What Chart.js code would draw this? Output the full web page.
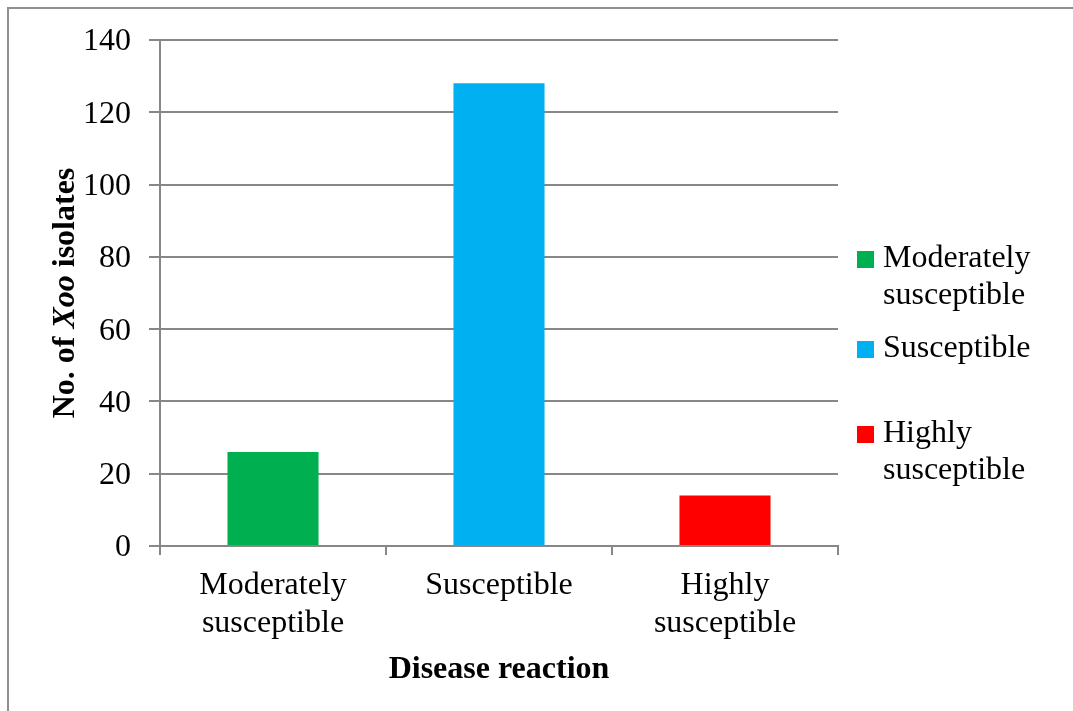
<!DOCTYPE html>
<html>
<head>
<meta charset="utf-8">
<script src="https://cdn.jsdelivr.net/npm/chart.js@4/dist/chart.umd.min.js"></script>
<style>
  html, body { margin: 0; padding: 0; background: #ffffff; }
  #wrap { width: 1073px; height: 711px; position: relative; }
</style>
</head>
<body>
<div id="wrap"><canvas id="c" width="1073" height="711"></canvas></div>
<script>
// ---- Data ----
const categories = [['Moderately', 'susceptible'], ['Susceptible'], ['Highly', 'susceptible']];
const legendLabels = [['Moderately', 'susceptible'], ['Susceptible'], ['Highly', 'susceptible']];
const values = [26, 128, 14];
const barColors = ['#00B050', '#00B0F0', '#FF0000'];
const yMin = 0, yMax = 140, yStep = 20;
const yTitleParts = [
  { text: 'No. of ', style: 'bold' },
  { text: 'Xoo', style: 'italic bold' },
  { text: ' isolates', style: 'bold' }
];
const xTitle = 'Disease reaction';

// ---- Styles ----
const FONT = '"Liberation Serif", "Times New Roman", serif';
const FS = 32;
const GRID = '#878787';

const framePlugin = {
  id: 'frame',
  beforeDraw(chart) {
    const ctx = chart.ctx;
    ctx.save();
    ctx.fillStyle = '#ffffff';
    ctx.fillRect(0, 0, chart.width, chart.height);
    ctx.strokeStyle = '#8f8f8f';
    ctx.lineWidth = 2;
    ctx.beginPath();
    ctx.moveTo(8, chart.height);
    ctx.lineTo(8, 8);
    ctx.lineTo(chart.width, 8);
    ctx.stroke();
    ctx.restore();
  }
};

const titlesPlugin = {
  id: 'titles',
  afterDraw(chart) {
    const ctx = chart.ctx;
    const area = chart.chartArea;
    ctx.save();
    ctx.fillStyle = '#000000';
    let total = 0;
    yTitleParts.forEach(p => { ctx.font = p.style + ' ' + FS + 'px ' + FONT; p.w = ctx.measureText(p.text).width; total += p.w; });
    ctx.translate(74, (area.top + area.bottom) / 2);
    ctx.rotate(-Math.PI / 2);
    ctx.textBaseline = 'alphabetic';
    ctx.textAlign = 'left';
    let x = -total / 2;
    yTitleParts.forEach(p => { ctx.font = p.style + ' ' + FS + 'px ' + FONT; ctx.fillText(p.text, x, 0); x += p.w; });
    ctx.setTransform(1, 0, 0, 1, 0, 0);
    ctx.font = 'bold ' + FS + 'px ' + FONT;
    ctx.textAlign = 'center';
    ctx.fillText(xTitle, (area.left + area.right) / 2, 678);
    ctx.restore();
  }
};

const legendPlugin = {
  id: 'sideLegend',
  afterDraw(chart) {
    const ctx = chart.ctx;
    const baselines = [267, 357, 442];
    ctx.save();
    ctx.font = FS + 'px ' + FONT;
    ctx.textBaseline = 'alphabetic';
    ctx.textAlign = 'left';
    legendLabels.forEach((lines, i) => {
      const b = baselines[i];
      ctx.fillStyle = barColors[i];
      ctx.fillRect(857, b - 16, 17, 17);
      ctx.fillStyle = '#000000';
      lines.forEach((t, j) => ctx.fillText(t, 883, b + j * 37));
    });
    ctx.restore();
  }
};

new Chart(document.getElementById('c'), {
  type: 'bar',
  data: {
    labels: categories,
    datasets: [{
      data: values,
      backgroundColor: barColors,
      borderWidth: 0,
      barPercentage: 0.403,
      categoryPercentage: 1.0
    }]
  },
  options: {
    responsive: false,
    animation: false,
    devicePixelRatio: 1,
    layout: { padding: { top: 40, right: 235, left: 0, bottom: 0 } },
    plugins: { legend: { display: false }, tooltip: { enabled: false } },
    scales: {
      x: {
        grid: { display: true, drawOnChartArea: false, drawTicks: true, tickLength: 9, offset: true, color: GRID, lineWidth: 2 },
        border: { display: true, color: GRID, width: 2 },
        ticks: { color: '#000', font: { family: FONT, size: FS, lineHeight: 1.18 }, padding: 12, maxRotation: 0, autoSkip: false },
        afterFit(scale) { scale.height = 165; }
      },
      y: {
        min: yMin, max: yMax,
        grid: { color: GRID, lineWidth: 2, drawTicks: true, tickLength: 11 },
        border: { display: true, color: GRID, width: 2 },
        ticks: { stepSize: yStep, color: '#000', font: { family: FONT, size: FS }, padding: 18, labelOffset: 2 },
        afterFit(scale) { scale.width = 160; }
      }
    }
  },
  plugins: [framePlugin, titlesPlugin, legendPlugin]
});
</script>
</body>
</html>
